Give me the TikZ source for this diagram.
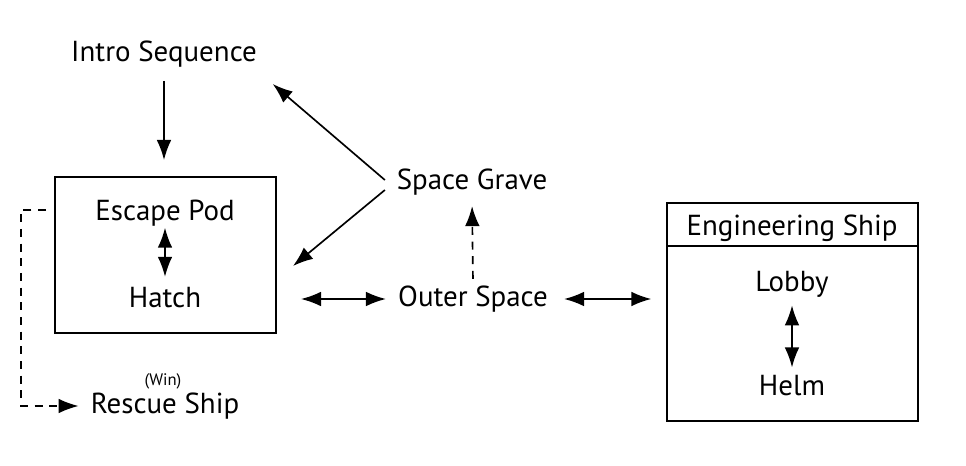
\documentclass[tikz,border=0pt]{standalone}
\usepackage{fontspec}
\setmainfont{PT Sans}
\usetikzlibrary{arrows.meta, positioning}

\begin{document}
\begin{tikzpicture}[x=0.75pt,y=-0.75pt,
    lbl/.style={font=\fontsize{21.7}{26}\selectfont, inner sep=2pt},
    small/.style={font=\fontsize{12.5}{14}\selectfont, inner sep=1pt},
    room/.style={draw, line width=1.5pt},
    arr/.style={-{Latex[length=15pt,width=11pt]}, line width=1.25pt},
    dbl/.style={{Latex[length=15pt,width=11pt]}-{Latex[length=15pt,width=11pt]}, line width=1.25pt},
    dsh/.style={arr, dash pattern=on 6pt off 5pt}
  ]
    \useasboundingbox (0,0) rectangle (966,466);
    % rooms
    \node[room, minimum width=165.75pt, minimum height=117pt] (pod) at (165.5,255) {};
    \node[room, minimum width=188.25pt, minimum height=163.5pt] (eng) at (792.5,312) {};
    \draw[line width=1.5pt] ([shift={(0,44)}]eng.north west) -- ([shift={(0,44)}]eng.north east);
    % labels
    \node[lbl] (intro) at (164,54) {Intro Sequence};
    \node[lbl] (escape) at (165,213) {Escape Pod};
    \node[lbl] (hatch) at (165,298) {Hatch};
    \node[lbl] (grave) at (472,182) {Space Grave};
    \node[lbl] (outer) at (473,299) {Outer Space};
    \node[lbl] (ship) at (792,228) {Engineering Ship};
    \node[lbl] (lobby) at (792,284) {Lobby};
    \node[lbl] (helm) at (792,386) {Helm};
    \node[lbl] (rescue) at (165,406) {Rescue Ship};
    \node[small] (win) at (163,381) {(Win)};
    % connectors
    \draw[arr, shorten <=8pt, shorten >=12pt] (intro.south) -- (intro.south |- pod.north);
    \draw[dbl, shorten <=-1pt, shorten >=6pt] (escape.south) -- (hatch.north);
    \draw[arr] ([shift={(-9,-2)}]grave.west) -- ([shift={(13,30)}]intro.east);
    \draw[arr] ([shift={(-9,8)}]grave.west) -- ([shift={(16,11)}]pod.east);
    \draw[dbl, shorten <=18pt, shorten >=7pt] (outer.west -| pod.east) -- (outer.west);
    \draw[dbl, shorten <=10pt, shorten >=11pt] (outer.east) -- (outer.east -| eng.west);
    \draw[dsh, shorten <=3pt, shorten >=6pt] (outer.north) -- (grave.south);
    \draw[dbl, shorten <=4pt, shorten >=4pt] (lobby.south) -- (helm.north);
    \draw[dsh, shorten >=7pt] ([shift={(-8,-45)}]pod.west) -- ++(-25,0) |- (rescue.west);
\end{tikzpicture}
\end{document}
